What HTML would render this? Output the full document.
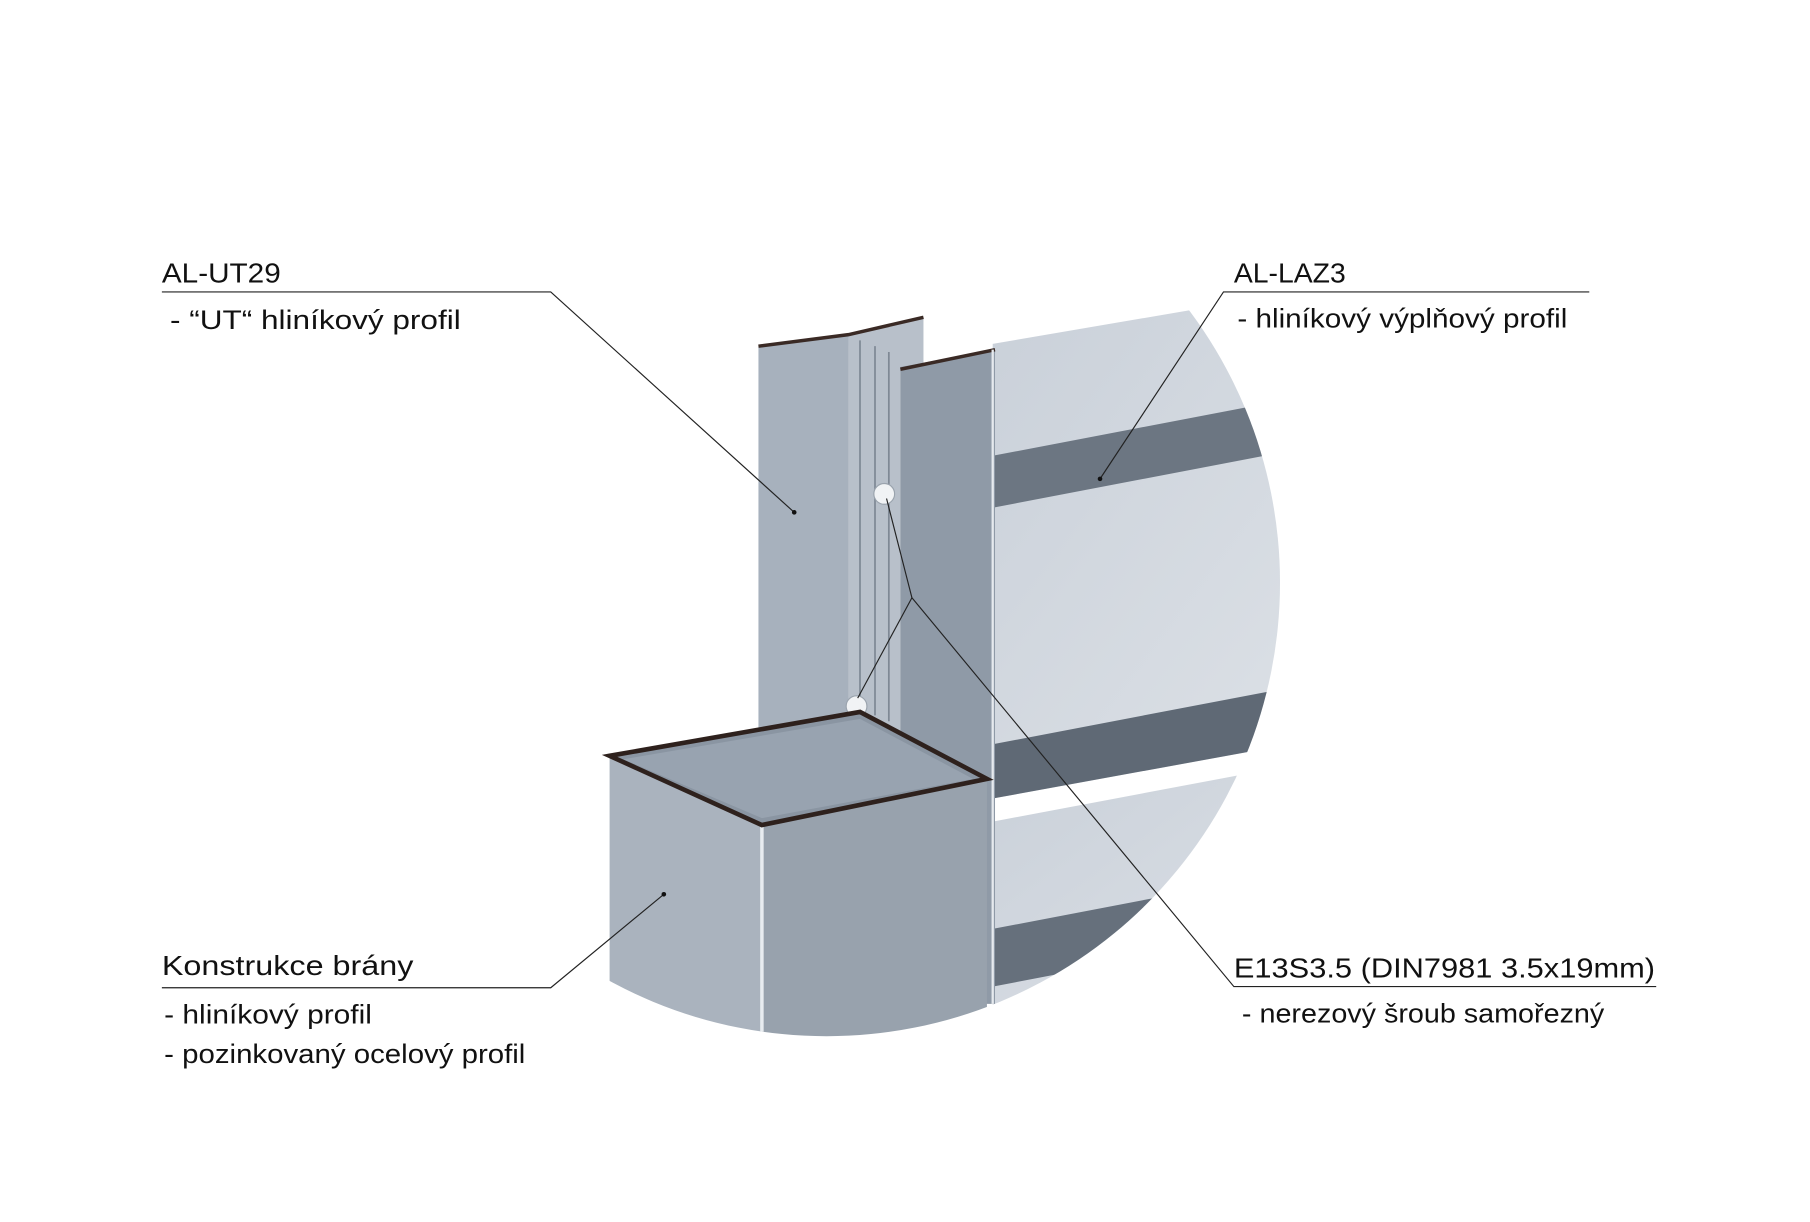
<!DOCTYPE html>
<html><head><meta charset="utf-8"><style>
html,body{margin:0;padding:0;background:#fff;}
svg{display:block;}
text{font-family:"Liberation Sans",sans-serif;fill:#111;}
</style></head><body>
<svg width="1810" height="1222" viewBox="0 0 1568 1059" xmlns="http://www.w3.org/2000/svg">
<defs>
<clipPath id="c"><circle cx="716" cy="505" r="393"/></clipPath>
<linearGradient id="pan" x1="0" y1="0" x2="1" y2="1">
<stop offset="0" stop-color="#c9d0d9"/><stop offset="1" stop-color="#dfe3e8"/></linearGradient>
</defs>
<rect width="1568" height="1059" fill="#fff"/>
<g clip-path="url(#c)">
<polygon points="860,298 1200,240 1200,630 860,692" fill="url(#pan)"/>
<polygon points="860,395 1200,330 1200,375 860,440" fill="#6c7682"/>
<polygon points="860,645 1200,580 1200,630 860,692" fill="#5f6975"/>
<polygon points="860,712 1200,648 1200,900 860,900" fill="url(#pan)"/>
<polygon points="860,805 1200,740 1200,790 860,855" fill="#66707c"/>
</g>
<!-- UT profile -->
<polygon points="657,300 735,290 735,625 657,655" fill="#a7b1bd"/>
<polygon points="735,290 800,275 800,318 780,322 780,640 735,625" fill="#b8c0ca"/>
<line x1="745" y1="295" x2="745" y2="620" stroke="#7f8995" stroke-width="1.5"/>
<line x1="758" y1="300" x2="758" y2="620" stroke="#7f8995" stroke-width="1.5"/>
<line x1="770" y1="305" x2="770" y2="625" stroke="#7f8995" stroke-width="1.5"/>
<polygon points="780,318 862,303 862,870 780,870" fill="#8f9aa7"/>
<polyline points="657,300 735,290 800,275" fill="none" stroke="#3a2a25" stroke-width="3"/>
<polyline points="780,320 862,303" fill="none" stroke="#3a2a25" stroke-width="3"/>
<line x1="860" y1="303" x2="860" y2="870" stroke="#e6eaee" stroke-width="2"/>
<!-- square tube -->
<g clip-path="url(#c)">
<polygon points="528,655 660,715 660,900 528,900" fill="#aab3be"/>
<polygon points="660,715 855,675 855,900 660,900" fill="#98a2ad"/>
<line x1="660" y1="715" x2="660" y2="900" stroke="#e8ecf0" stroke-width="3"/>
</g>
<!-- screws -->
<circle cx="766" cy="428" r="9" fill="#f1f3f5" stroke="#9aa3ad"/>
<circle cx="742" cy="612" r="9" fill="#f1f3f5" stroke="#9aa3ad"/>
<polygon points="528,655 745,617 855,675 660,715" fill="#8a95a2" stroke="#2e211d" stroke-width="4"/>
<polygon points="540,658 745,623 843,675 660,709" fill="#98a3b0"/>
<g stroke="#222" stroke-width="1" fill="none">
<polyline points="140,253 477,253 688,444"/>
<polyline points="1377,253 1060,253 953,415"/>
<polyline points="140,856 477,856 575,775"/>
<polyline points="1435,855 1069,855 790,518 768,432"/>
<polyline points="790,518 743,605"/>
</g>
<g fill="#111"><circle cx="688" cy="444" r="2"/><circle cx="953" cy="415" r="2"/><circle cx="575" cy="775" r="2"/></g>
<text x="140" y="245" font-size="24" textLength="103" lengthAdjust="spacingAndGlyphs">AL-UT29</text>
<text x="147" y="285" font-size="23" textLength="252" lengthAdjust="spacingAndGlyphs">- “UT“ hliníkový profil</text>
<text x="1069" y="245" font-size="24" textLength="97" lengthAdjust="spacingAndGlyphs">AL-LAZ3</text>
<text x="1072" y="284" font-size="23" textLength="286" lengthAdjust="spacingAndGlyphs">- hliníkový výplňový profil</text>
<text x="140" y="845" font-size="24" textLength="218" lengthAdjust="spacingAndGlyphs">Konstrukce brány</text>
<text x="142" y="887" font-size="23" textLength="180" lengthAdjust="spacingAndGlyphs">- hliníkový profil</text>
<text x="142" y="921" font-size="23" textLength="313" lengthAdjust="spacingAndGlyphs">- pozinkovaný ocelový profil</text>
<text x="1069" y="847" font-size="24" textLength="365" lengthAdjust="spacingAndGlyphs">E13S3.5 (DIN7981 3.5x19mm)</text>
<text x="1076" y="886" font-size="23" textLength="314" lengthAdjust="spacingAndGlyphs">- nerezový šroub samořezný</text>
</svg>
</body></html>
